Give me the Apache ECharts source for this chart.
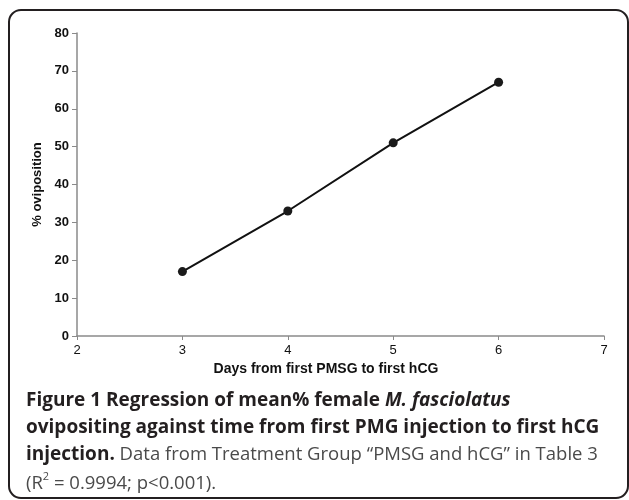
<!DOCTYPE html>
<html><head><meta charset="utf-8">
<script src="https://cdn.jsdelivr.net/npm/echarts@6/dist/echarts.min.js"></script>
<style>html,body{margin:0;padding:0;background:#fff}#c{width:629px;height:500px}</style>
</head><body><div id="c"></div>
<script>
const days = [3, 4, 5, 6];
const oviposition = [17, 33, 51, 67];
const xTicks = [2, 3, 4, 5, 6, 7];
const yTicks = [0, 10, 20, 30, 40, 50, 60, 70, 80];
const xName = 'Days from first PMSG to first hCG';
const yName = '% oviposition';

const chart = echarts.init(document.getElementById('c'));
const axisCol = '#8a8a8a';
const capFont = '"Open Sans", "Noto Sans", sans-serif';
const bStyle = {fontFamily: capFont, fontWeight: 'bold', fontSize: 19, fill: '#231f20'};
const rStyle = {fontFamily: capFont, fontSize: 18.5, fill: '#4a4a4a'};
chart.setOption({
  animation: false,
  grid: {left: 77, right: 25, top: 33, bottom: 164},
  xAxis: {
    type: 'value', min: xTicks[0], max: xTicks[xTicks.length-1], interval: 1,
    name: xName, nameLocation: 'middle', nameGap: 26,
    nameTextStyle: {fontFamily: 'Liberation Sans', fontWeight: 'bold', fontSize: 14, color: '#111', padding: [0, 29, 0, 0]},
    axisLine: {show: true, lineStyle: {color: axisCol, width: 1.5}},
    axisTick: {show: true, length: 4, lineStyle: {color: axisCol}},
    axisLabel: {fontFamily: 'Liberation Sans', fontSize: 13, color: '#111', margin: 8},
    splitLine: {show: false}
  },
  yAxis: {
    type: 'value', min: yTicks[0], max: yTicks[yTicks.length-1], interval: 10,
    name: yName, nameLocation: 'middle', nameGap: 31, nameRotate: 90,
    nameTextStyle: {fontFamily: 'Liberation Sans', fontWeight: 'bold', fontSize: 13, color: '#111'},
    axisLine: {show: true, lineStyle: {color: axisCol, width: 1.5}},
    axisTick: {show: true, length: 5, lineStyle: {color: axisCol}},
    axisLabel: {fontFamily: 'Liberation Sans', fontWeight: 'bold', fontSize: 13, color: '#111', margin: 8},
    splitLine: {show: false}
  },
  series: [{
    type: 'line', data: days.map((d, i) => [d, oviposition[i]]),
    symbol: 'circle', symbolSize: 9,
    lineStyle: {color: '#111', width: 2},
    itemStyle: {color: '#1a1a1a'}
  }],
  graphic: [
    {type: 'rect', shape: {x: 9, y: 10, width: 619, height: 488, r: 12},
     style: {fill: 'none', stroke: '#231f20', lineWidth: 2}, z: 100},
    {type: 'text', left: 26, top: 391, z: 100, style: {
      rich: {b: bStyle, bi: Object.assign({}, bStyle, {fontStyle: 'italic'})},
      text: '{b|Figure 1 Regression of mean% female }{bi|M. fasciolatus}'
    }},
    {type: 'text', left: 26, top: 418, z: 100, style: Object.assign({
      text: 'ovipositing against time from first PMG injection to first hCG'}, bStyle)
    },
    {type: 'text', left: 26, top: 445, z: 100, style: {
      rich: {b: bStyle, r: rStyle},
      text: '{b|injection.}{r| Data from Treatment Group \u201cPMSG and hCG\u201d in Table 3}'
    }},
    {type: 'text', left: 26, top: 471, z: 100, style: {
      rich: {
        r: Object.assign({lineHeight: 26}, rStyle),
        s: {fontFamily: capFont, fontSize: 11, fill: '#4a4a4a', verticalAlign: 'top', lineHeight: 26, padding: [0, 0, 12, 0]}
      },
      text: '{r|(R}{s|2}{r| = 0.9994; p<0.001).}'
    }}
  ]
});
</script></body></html>
